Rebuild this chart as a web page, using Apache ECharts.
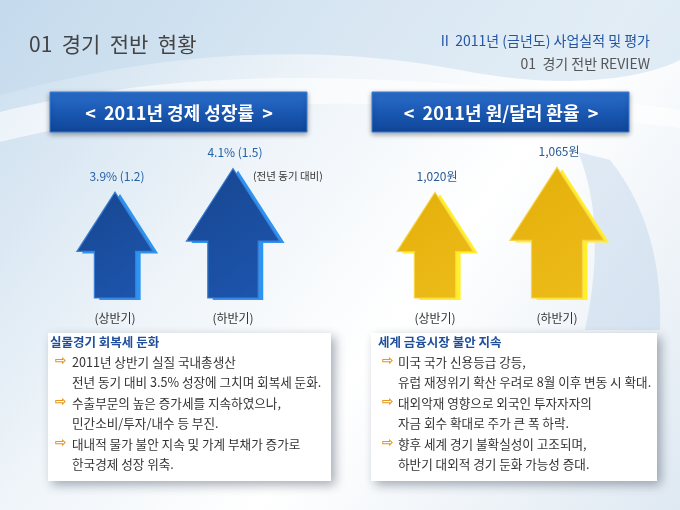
<!DOCTYPE html>
<html>
<head>
<meta charset="utf-8">
<script src="https://cdn.jsdelivr.net/npm/echarts@6/dist/echarts.min.js"></script>
<style>
  html, body { margin: 0; padding: 0; background: #fff; }
  #chart { width: 680px; height: 510px; }
</style>
</head>
<body>
<div id="chart"></div>
<script>
const halves = ['상반기', '하반기'];
const growthRate = [3.9, 4.1];
const growthPrev = [1.2, 1.5];
const exchangeRate = [1020, 1065];

const leftNotes = [
  ['2011년 상반기 실질 국내총생산', '전년 동기 대비 3.5% 성장에 그치며 회복세 둔화.'],
  ['수출부문의 높은 증가세를 지속하였으나,', '민간소비/투자/내수 등 부진.'],
  ['대내적 물가 불안 지속 및 가계 부채가 증가로', '한국경제 성장 위축.']
];
const rightNotes = [
  ['미국 국가 신용등급 강등,', '유럽 재정위기 확산 우려로 8월 이후 변동 시 확대.'],
  ['대외악재 영향으로 외국인 투자자자의', '자금 회수 확대로 주가 큰 폭 하락.'],
  ['향후 세계 경기 불확실성이 고조되며,', '하반기 대외적 경기 둔화 가능성 증대.']
];

const FONT = '"Noto Sans CJK KR", "Noto Sans", sans-serif';
const chart = echarts.init(document.getElementById('chart'));

// sample a cubic bezier into polygon points (graphic has no path type)
function bez(p0, p1, p2, p3, n) {
  const out = [];
  for (let k = 0; k <= n; k++) {
    const t = k / n, u = 1 - t;
    out.push([
      u * u * u * p0[0] + 3 * u * u * t * p1[0] + 3 * u * t * t * p2[0] + t * t * t * p3[0],
      u * u * u * p0[1] + 3 * u * u * t * p1[1] + 3 * u * t * t * p2[1] + t * t * t * p3[1]
    ]);
  }
  return out;
}

// arrow drawn from axis min up to the value
function arrowRenderer(minVal, colors, labelFn) {
  return function (params, api) {
    const x = api.value(0);
    const v = api.value(1);
    const tip = api.coord([x, v]);
    const base = api.coord([x, minVal]);
    const h = base[1] - tip[1];
    const cx = tip[0], ty = tip[1], by = base[1];
    const headW = h * 0.72, shaftW = h * 0.39, headH = h * 0.56;
    const pts = [
      [cx, ty], [cx + headW / 2, ty + headH], [cx + shaftW / 2, ty + headH],
      [cx + shaftW / 2, by], [cx - shaftW / 2, by], [cx - shaftW / 2, ty + headH],
      [cx - headW / 2, ty + headH]
    ];
    const side = pts.map(p => [p[0] + 5, p[1] + 2]);
    return {
      type: 'group',
      children: [
        { type: 'polygon', shape: { points: side }, style: { fill: colors.side } },
        {
          type: 'polygon', shape: { points: pts },
          style: {
            fill: new echarts.graphic.LinearGradient(0, 0, 1, 1, [
              { offset: 0, color: colors.top }, { offset: 1, color: colors.bottom }
            ]),
            stroke: colors.edge, lineWidth: 1.2
          }
        },
        {
          type: 'text',
          style: {
            x: cx + 2, y: ty - 16, text: labelFn(params.dataIndex),
            fill: colors.label, font: '12px ' + FONT, align: 'center', verticalAlign: 'middle'
          }
        }
      ]
    };
  };
}

function noteTexts(notes, title, x0, bx, tx) {
  const els = [];
  els.push({
    type: 'text', left: x0, top: 336,
    style: { text: title, fill: '#1f4f9c', font: 'bold 12.5px ' + FONT }
  });
  let y = 356;
  notes.forEach(pair => {
    els.push({ type: 'text', left: bx, top: y - 2, style: { text: '⇨', fill: '#e8961c', font: 'bold 14px "DejaVu Sans"' } });
    els.push({ type: 'text', left: tx, top: y, style: { text: pair[0], fill: '#333', font: '12.6px ' + FONT } });
    els.push({ type: 'text', left: tx, top: y + 20, style: { text: pair[1], fill: '#333', font: '12.6px ' + FONT } });
    y += 41;
  });
  return els;
}

function banner(x, text) {
  return [
    {
      type: 'rect', shape: { x: x, y: 92, width: 257, height: 40 },
      style: {
        fill: new echarts.graphic.LinearGradient(0, 0, 0, 1, [
          { offset: 0, color: '#2b6fcc' }, { offset: 0.5, color: '#1a58b2' }, { offset: 1, color: '#0f4597' }
        ]),
        stroke: '#3a7fd8', lineWidth: 1,
        shadowBlur: 5, shadowColor: 'rgba(0,0,0,0.35)', shadowOffsetY: 2
      }
    },
    {
      type: 'text',
      style: {
        x: x + 129, y: 113, text: text, fill: '#fff',
        font: 'bold 18px ' + FONT, align: 'center', verticalAlign: 'middle'
      }
    }
  ];
}

function noteBox(x, w) {
  return {
    type: 'rect', shape: { x: x, y: 333, width: w, height: 148 },
    style: { fill: '#fff', shadowBlur: 10, shadowColor: 'rgba(60,70,90,0.45)', shadowOffsetX: 4, shadowOffsetY: 4 }
  };
}

const topBand = [[0, 0], ...bez([0, 95], [150, 55], [300, 40], [460, 70], 30), ...bez([460, 70], [560, 90], [640, 80], [680, 60], 20), [680, 0]];
const whiteWave = [...bez([0, 112], [200, 62], [420, 72], [680, 110], 40), ...bez([680, 128], [420, 95], [200, 92], [0, 142], 40)];
const ghostArrow = [...bez([585, 330], [600, 260], [598, 200], [578, 152], 20), [610, 160], ...bez([610, 160], [650, 210], [662, 270], [660, 330], 20)];

const option = {
  animation: false,
  graphic: [
    {
      type: 'rect', shape: { x: 0, y: 0, width: 680, height: 510 }, silent: true,
      style: {
        fill: new echarts.graphic.LinearGradient(0, 0, 1, 1, [
          { offset: 0, color: '#c9ddee' }, { offset: 0.35, color: '#eef4f9' },
          { offset: 0.6, color: '#ffffff' }, { offset: 1, color: '#dfe9f2' }
        ])
      }
    },
    { type: 'polygon', silent: true, shape: { points: topBand }, style: { fill: 'rgba(190,215,235,0.45)' } },
    { type: 'polygon', silent: true, shape: { points: whiteWave }, style: { fill: 'rgba(255,255,255,0.6)' } },
    { type: 'polygon', silent: true, shape: { points: ghostArrow }, style: { fill: 'rgba(175,200,228,0.35)' } },
    {
      type: 'text', left: 29, top: 34,
      style: { text: '01  경기  전반  현황', fill: '#444', font: '21px ' + FONT }
    },
    {
      type: 'text', right: 30, top: 34,
      style: { text: 'II  2011년 (금년도) 사업실적 및 평가', fill: '#2456a2', font: '14px ' + FONT }
    },
    {
      type: 'text', right: 30, top: 57,
      style: { text: '01  경기 전반 REVIEW', fill: '#555', font: '14px ' + FONT }
    },
    ...banner(50, '<  2011년 경제 성장률  >'),
    ...banner(372, '<  2011년 원/달러 환율  >'),
    {
      type: 'text', left: 253, top: 171,
      style: { text: '(전년 동기 대비)', fill: '#333', font: '10.5px ' + FONT }
    },
    noteBox(48, 283),
    noteBox(371, 286),
    ...noteTexts(leftNotes, '실물경기 회복세 둔화', 50, 55, 72),
    ...noteTexts(rightNotes, '세계 금융시장 불안 지속', 378, 382, 398)
  ],
  grid: [
    { left: 56, width: 236, top: 145, bottom: 212 },
    { left: 374, width: 244, top: 145, bottom: 212 }
  ],
  xAxis: [0, 1].map(i => ({
    gridIndex: i, type: 'category', data: halves,
    axisLine: { show: false }, axisTick: { show: false },
    axisLabel: { formatter: '({value})', margin: 14, color: '#333', fontSize: 12, fontFamily: FONT }
  })),
  yAxis: [
    { gridIndex: 0, type: 'value', min: 3, max: 4.3, show: false },
    { gridIndex: 1, type: 'value', min: 830, max: 1105, show: false }
  ],
  series: [
    {
      type: 'custom', xAxisIndex: 0, yAxisIndex: 0, z: 5,
      data: growthRate.map((v, i) => [i, v]),
      renderItem: arrowRenderer(3, {
        top: '#17468f', bottom: '#1d56b0', side: '#2d94f2', edge: '#3b7fd6', label: '#2262aa'
      }, i => growthRate[i] + '% (' + growthPrev[i] + ')')
    },
    {
      type: 'custom', xAxisIndex: 1, yAxisIndex: 1, z: 5,
      data: exchangeRate.map((v, i) => [i, v]),
      renderItem: arrowRenderer(830, {
        top: '#e3ae0a', bottom: '#eebd1a', side: '#fff02a', edge: '#f7d548', label: '#2a5a92'
      }, i => exchangeRate[i].toLocaleString('en-US') + '원')
    }
  ]
};

chart.setOption(option);
</script>
</body>
</html>
